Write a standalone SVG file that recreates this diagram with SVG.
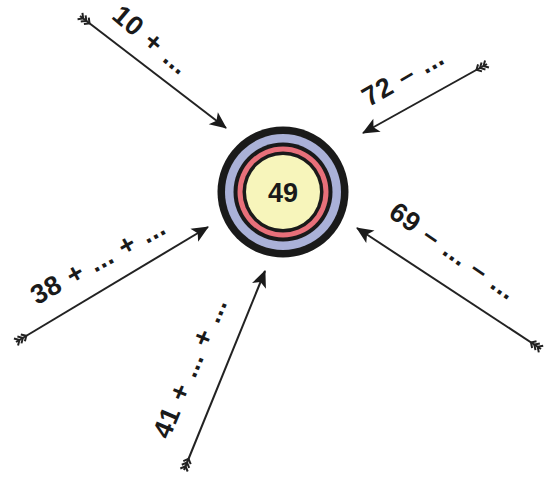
<svg xmlns="http://www.w3.org/2000/svg" width="549" height="479" viewBox="0 0 549 479">
<style>
.lbl{font-family:"Liberation Sans",Arial,sans-serif;font-weight:bold;font-size:27px;letter-spacing:0.5px;word-spacing:1.5px;fill:#1a1a1a;text-anchor:middle}
.shaft{stroke:#222;stroke-width:2;fill:none;marker-start:url(#fletch);marker-end:url(#head)}
</style>
<defs>
<marker id="head" markerUnits="userSpaceOnUse" orient="auto" markerWidth="20" markerHeight="20" refX="0" refY="0" viewBox="-18 -10 20 20" overflow="visible">
<path d="M1,0 L-16,-7.5 L-12,0 L-16,7.5 Z" fill="#1a1a1a"/>
</marker>
<marker id="fletch" markerUnits="userSpaceOnUse" orient="auto" markerWidth="20" markerHeight="20" refX="0" refY="0" viewBox="-2 -10 20 20" overflow="visible">
<path d="M0,-4 L4,0 L0,4 M4,-4 L8,0 L4,4 M8,-4 L12,0 L8,4" stroke="#222" stroke-width="2" fill="none"/>
</marker>
</defs>
<rect width="549" height="479" fill="#fff"/>
<g id="connectors">
<line class="shaft" x1="80" y1="16" x2="226" y2="128"/>
<line class="shaft" x1="487" y1="64" x2="363" y2="133"/>
<line class="shaft" x1="541" y1="349" x2="357" y2="228"/>
<line class="shaft" x1="16" y1="342" x2="208" y2="227"/>
<line class="shaft" x1="184" y1="470" x2="265" y2="271"/>
</g>
<g id="target">
<circle cx="283" cy="192" r="65.5" fill="#1a1a1a"/>
<circle cx="283" cy="192" r="58" fill="#aab1d8"/>
<circle cx="283" cy="192" r="49.5" fill="#1a1a1a"/>
<circle cx="283" cy="192" r="45.5" fill="#e8707a"/>
<circle cx="283" cy="192" r="40.5" fill="#1a1a1a"/>
<circle cx="283" cy="192" r="37" fill="#f7f5bb"/>
<text x="283" y="202" font-family="Liberation Sans,Arial,sans-serif" font-weight="bold" font-size="27" fill="#1a1a1a" text-anchor="middle">49</text>
</g>
<g id="label-10">
<text class="lbl" transform="translate(151,40) rotate(40)" y="9">10 + ...</text>
</g>
<g id="label-72">
<text class="lbl" transform="translate(403,77) rotate(-30)" y="9">72 – ...</text>
</g>
<g id="label-69">
<text class="lbl" transform="translate(453,251) rotate(35)" y="9">69 – ... – ...</text>
</g>
<g id="label-38">
<text class="lbl" transform="translate(98,261) rotate(-29)" y="9">38 + ... + ...</text>
</g>
<g id="label-41">
<text class="lbl" transform="translate(190,368) rotate(-67)" y="9">41 + ... + ...</text>
</g>
</svg>
